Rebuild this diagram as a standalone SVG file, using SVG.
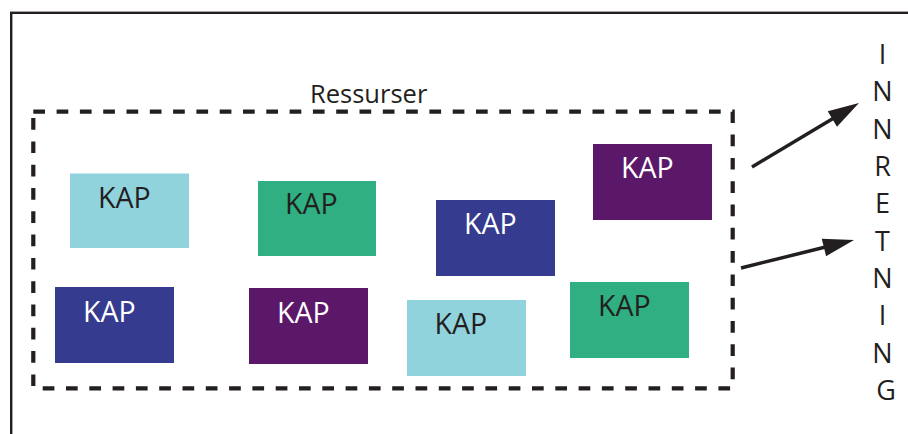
<svg xmlns="http://www.w3.org/2000/svg" width="908" height="434" viewBox="0 0 908 434">
<style>
.kap{font-family:"Open Sans","Liberation Sans",sans-serif;font-size:28.5px}
.w{fill:#ffffff}
.d{fill:#231f20}
.lb{fill:#91d3dd}
.gr{fill:#2faf82}
.db{fill:#353b8f}
.pu{fill:#5b1869}
.lbl{font-family:"Open Sans","Liberation Sans",sans-serif;fill:#231f20}
.conn{stroke:#231f20;stroke-width:3.5;fill:none;marker-end:url(#ah)}
</style>
<defs>
<marker id="ah" markerUnits="userSpaceOnUse" markerWidth="31" markerHeight="18" refX="11" refY="9" orient="auto" overflow="visible">
<path d="M0,0 L31,9 L0,18 z" fill="#231f20"/>
</marker>
</defs>
<rect x="0" y="0" width="908" height="434" fill="#ffffff"/>
<rect id="frame" x="11.2" y="12.8" width="1000" height="500" fill="none" stroke="#231f20" stroke-width="2.4"/>
<g id="ressurser">
<rect x="33.3" y="111.7" width="699.4" height="276.6" fill="none" stroke="#231f20" stroke-width="4.2" stroke-dasharray="11.7 11.6"/>
<text class="lbl" x="310" y="103.3" font-size="25.5">Ressurser</text>
</g>
<g id="kap1"><rect class="lb" x="70" y="173.5" width="119" height="74.5"/><text class="kap d" x="98" y="207.5">KAP</text></g>
<g id="kap2"><rect class="gr" x="258" y="181" width="118" height="75"/><text class="kap d" x="285" y="214">KAP</text></g>
<g id="kap3"><rect class="db" x="436" y="200" width="119" height="76"/><text class="kap w" x="464" y="233.5">KAP</text></g>
<g id="kap4"><rect class="pu" x="593" y="144" width="119" height="76"/><text class="kap w" x="621" y="178">KAP</text></g>
<g id="kap5"><rect class="db" x="55" y="287" width="119" height="76"/><text class="kap w" x="83" y="321.5">KAP</text></g>
<g id="kap6"><rect class="pu" x="249" y="288" width="119" height="76"/><text class="kap w" x="277" y="322.5">KAP</text></g>
<g id="kap7"><rect class="lb" x="407" y="300" width="119" height="76"/><text class="kap d" x="434.5" y="334">KAP</text></g>
<g id="kap8"><rect class="gr" x="570" y="282" width="119" height="76"/><text class="kap d" x="598" y="316">KAP</text></g>
<g id="innretning">
<text class="lbl" font-size="27" text-anchor="middle">
<tspan x="886" y="64">I</tspan>
<tspan x="886" y="101.3">N</tspan>
<tspan x="886" y="138.7">N</tspan>
<tspan x="886" y="176">R</tspan>
<tspan x="886" y="213.3">E</tspan>
<tspan x="886" y="250.7">T</tspan>
<tspan x="886" y="288">N</tspan>
<tspan x="886" y="325.3">I</tspan>
<tspan x="886" y="362.7">N</tspan>
<tspan x="886" y="400">G</tspan>
</text>
</g>
<g id="connectors">
<line class="conn" x1="752" y1="167" x2="841.8" y2="113.3"/>
<line class="conn" x1="741" y1="268" x2="834.6" y2="244.8"/>
</g>
</svg>
